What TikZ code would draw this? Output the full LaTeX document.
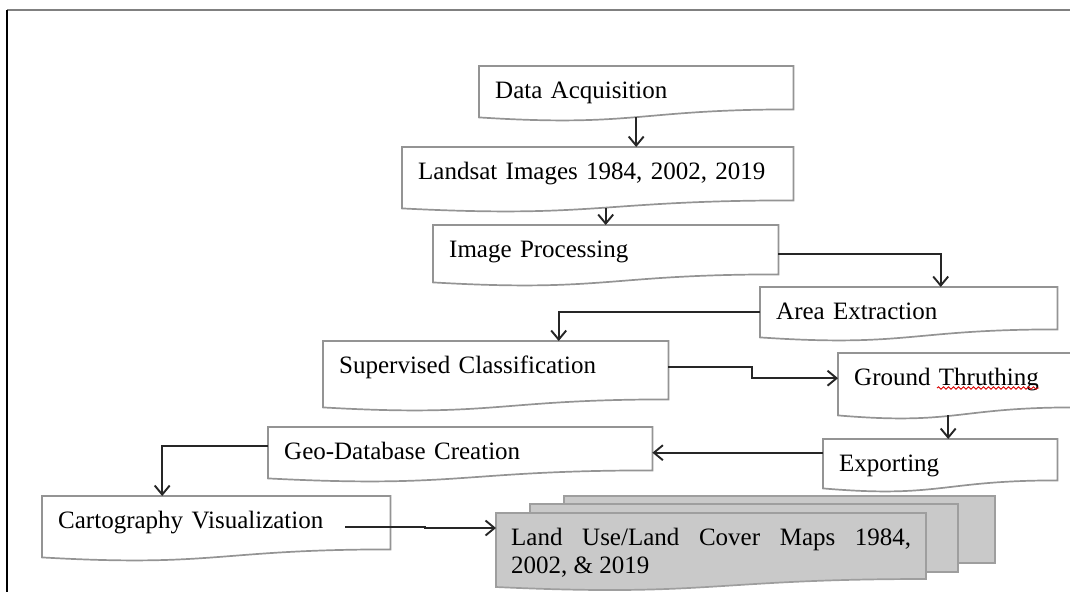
\documentclass[tikz,border=0pt]{standalone}
\usepackage{fontspec}
\setmainfont{Liberation Serif}
\usetikzlibrary{arrows.meta, decorations.pathmorphing}

\tikzset{
  docbox/.style={anchor=north west, inner xsep=16pt, inner ysep=0pt, text height=32pt,
    align=left, font=\fontsize{25}{28}\selectfont},
  docline/.style={draw=black!42, line width=1.7pt},
  mapsheet/.style={draw=black!38, fill=black!21, line width=1.7pt},
  flow/.style={-{Straight Barb[length=9pt,width=15pt]}, draw=black!85, line width=1.9pt},
}

\begin{document}
\begin{tikzpicture}[x=1pt, y=-1pt]
  \useasboundingbox (0,0) rectangle (1070,592);
  % Rahmen
  \draw[black!50, line width=2.4pt] (7,10) -- (1070,10);
  \draw[black, line width=2pt] (7,10) -- (7,592);

  % Schritte
  \node[docbox, text width=282pt, text depth=19pt] (da)  at (479,66)  {Data Acquisition};
  \node[docbox, text width=359pt, text depth=29pt] (li)  at (402,147) {Landsat Images 1984, 2002, 2019};
  \node[docbox, text width=313pt, text depth=25pt] (ip)  at (433,225) {Image Processing};
  \node[docbox, text width=265pt, text depth=18pt] (ae)  at (760,287) {Area Extraction};
  \node[docbox, text width=313pt, text depth=34pt] (sc)  at (323,341) {Supervised Classification};
  \node[docbox, text width=204pt, text depth=30pt] (gt)  at (838,353) {Ground Thruthing};
  \node[docbox, text width=202pt, text depth=17pt] (ex)  at (823,439) {Exporting};
  \node[docbox, text width=352pt, text depth=19pt] (gdc) at (268,427) {Geo-Database Creation};
  \node[docbox, text width=316pt, text depth=29pt] (cv)  at (42,496)  {Cartography Visualization};

  % Umriss mit welliger Unterkante
  \foreach \n in {da,li,ip,ae,sc,gt,ex,gdc,cv}
    \draw[docline] (\n.north west) -- (\n.north east) -- ([yshift=8pt]\n.south east)
      .. controls ([yshift=8pt]\n.south) and ([yshift=-10pt]\n.south) .. (\n.south west) -- cycle;

  % Rechtschreibmarke unter "Thruthing"
  \draw[red!85!black, line width=0.9pt, decorate, decoration={snake, amplitude=1.2pt, segment length=5pt}]
    ([xshift=99pt,yshift=-35pt]gt.north west) -- ++(102,0);

  % Kartenstapel
  \draw[mapsheet] (564,496) rectangle (995,563);
  \draw[mapsheet] (530,504) rectangle (958,572);
  \draw[mapsheet] (496,513) -- (926,513) -- (926,579) .. controls (711,579) and (711,597) .. (496,587) -- cycle;
  \node[docbox, inner xsep=15pt, text width=400pt, text depth=42pt, align=justify] (lu) at (496,513)
    {Land Use/Land Cover Maps 1984,\linebreak 2002, \& 2019};

  % Verbindungen
  \draw[flow] (da.south) -- (da.south |- li.north);
  \draw[flow] (ip.north |- li.south) -- (ip.north);
  \draw[flow] (ip.east) -| ([xshift=32pt]ae.north);
  \draw[flow] (ae.west) -| ([xshift=63pt]sc.north);
  \draw[flow] ([yshift=7pt]sc.east) -- ++(84,0) |- ([yshift=6pt]gt.west);
  \draw[flow] ([xshift=-8pt]gt.south) -- ([xshift=-8pt]gt.south |- ex.north);
  \draw[flow] (ex.west |- gdc.east) -- (gdc.east);
  \draw[flow] ([yshift=7pt]gdc.west) -| ([xshift=-54pt]cv.north);
  \draw[flow] ([xshift=-45pt]cv.east) -- ++(80,0) |- ([yshift=-15pt]lu.north west);
\end{tikzpicture}
\end{document}
